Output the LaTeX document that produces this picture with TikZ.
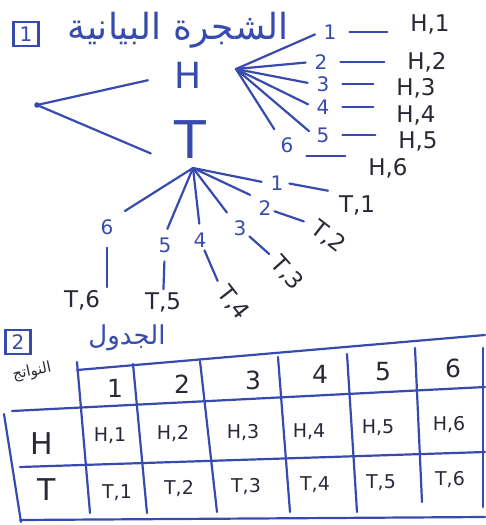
\documentclass[tikz,border=0pt]{standalone}
\usepackage{fontspec}
\setmainfont{DejaVu Sans}
\newfontfamily\arabicfont[Script=Arabic]{DejaVu Sans}
\TeXXeTstate=1
\usetikzlibrary{positioning}
\definecolor{inkblue}{RGB}{55,75,175}
\definecolor{inkdark}{RGB}{40,40,55}

\begin{document}
\begin{tikzpicture}[x=1pt, y=-1pt, line width=2.2pt, line cap=round,
    ink/.style={draw=inkblue},
    fan/.style={draw=inkblue, shorten >=6pt},
    stroke/.style={draw=inkblue, shorten <=10pt, shorten >=20pt},
    num/.style={text=inkblue, font=\fontsize{20}{20}\selectfont, inner sep=2pt},
    lab/.style={text=inkdark, font=\fontsize{23}{23}\selectfont, inner sep=2pt},
    cell/.style={text=inkdark, font=\fontsize{19}{19}\selectfont, inner sep=1pt},
    head/.style={text=inkdark, font=\fontsize{25}{25}\selectfont, inner sep=1pt},
    partbox/.style={draw=inkblue, text=inkblue, font=\fontsize{20}{20}\selectfont,
      inner sep=2pt, minimum width=25pt, minimum height=24pt}]
    \useasboundingbox (0,0) rectangle (485,525);

    % Part 1 title
    \node[partbox] (one) at (26,34) {1};
    \node[text=inkblue, font=\arabicfont\fontsize{36}{36}\selectfont] (title) at (178,30) {\beginR الشجرة البيانية\endR};

    % Root and first level
    \coordinate (root) at (37,105);
    \fill[inkblue] (root) circle (2.8pt);
    \node[text=inkblue, font=\fontsize{36}{36}\selectfont, inner sep=2pt] (H) at (188,75) {H};
    \node[text=inkblue, font=\fontsize{52}{52}\selectfont, inner sep=2pt] (T) at (190,140) {T};
    \draw[ink, shorten >=24pt] (root) -- (H.west);
    \draw[ink, shorten >=22pt] (root) -- (T.south west);

    % H branches
    \coordinate (hfan) at (236,69);
    \node[num] (h1) at (330,32) {1};
    \node[num] (h2) at (321,62) {2};
    \node[num] (h3) at (323,84) {3};
    \node[num] (h4) at (323,107) {4};
    \node[num] (h5) at (323,135) {5};
    \node[num] (h6) at (287,145) {6};
    \draw[fan] (hfan) -- (h1.west);
    \draw[fan] (hfan) -- (h2.west);
    \draw[fan] (hfan) -- (h3.west);
    \draw[fan] (hfan) -- (h4.west);
    \draw[fan] (hfan) -- (h5.west);
    \draw[fan] (hfan) -- (h6.north west);

    \node[lab] (hl1) at (430,24) {H,1};
    \node[lab] (hl2) at (427,62) {H,2};
    \node[lab] (hl3) at (416,88) {H,3};
    \node[lab] (hl4) at (416,115) {H,4};
    \node[lab] (hl5) at (418,141) {H,5};
    \node[lab] (hl6) at (388,168) {H,6};
    \draw[stroke] (h1.east) -- (h1.east -| hl1.west);
    \draw[stroke] (h2.east) -- (h2.east -| hl2.west);
    \draw[stroke] (h3.east) -- (h3.east -| hl3.west);
    \draw[stroke] (h4.east) -- (h4.east -| hl4.west);
    \draw[stroke] (h5.east) -- (h5.east -| hl5.west);
    \draw[stroke] (h6.south east) -- (h6.south east -| hl6.north west);

    % T branches
    \coordinate (tfan) at (193,168);
    \node[num] (t1) at (277,183) {1};
    \node[num] (t2) at (265,208) {2};
    \node[num] (t3) at (240,228) {3};
    \node[num] (t4) at (200,240) {4};
    \node[num] (t5) at (165,245) {5};
    \node[num] (t6) at (107,227) {6};
    \draw[fan] (tfan) -- (t1.west);
    \draw[fan] (tfan) -- (t2.north west);
    \draw[fan] (tfan) -- (t3.north west);
    \draw[fan] (tfan) -- (t4.north);
    \draw[fan] (tfan) -- (t5.north);
    \draw[fan, shorten >=10pt] (tfan) -- (t6.north east);

    \node[lab] (tl1) at (357,205) {T,1};
    \node[lab, rotate=-38] (tl2) at (328,237) {T,2};
    \node[lab, rotate=-48] (tl3) at (287,273) {T,3};
    \node[lab, rotate=-52] (tl4) at (233,303) {T,4};
    \node[lab] (tl5) at (163,302) {T,5};
    \node[lab] (tl6) at (82,300) {T,6};
    \draw[ink, shorten <=3pt, shorten >=8pt] (t1.east) -- (tl1.north west);
    \draw[ink, shorten >=8pt] (t2) -- (tl2.west);
    \draw[ink, shorten >=5pt] (t3) -- (tl3.west);
    \draw[ink, shorten >=6pt] (t4) -- (tl4.west);
    \draw[ink, shorten <=6pt] (t5) -- (tl5);
    \draw[ink, shorten <=10pt] (t6.south) -- (t6.south |- tl6.north);

    % Part 2 title
    \node[partbox] (two) at (18,342) {2};
    \node[text=inkblue, font=\arabicfont\fontsize{26}{26}\selectfont] (ttable) at (127,338) {\beginR الجدول\endR};
    \node[text=inkdark, font=\arabicfont\fontsize{15}{15}\selectfont, rotate=12] (outc) at (32,372) {\beginR النواتج\endR};

    % Table rules
    \draw[ink] (77,370) -- (485,335);
    \draw[ink] (12,411) -- (485,387);
    \draw[ink] (20,467) -- (485,452);
    \draw[ink] (20,520) -- (485,517);
    \draw[ink] (4,414) -- (21,522);
    \draw[ink] (77,362) -- (90,513);
    \draw[ink] (133,364) -- (147,513);
    \draw[ink] (200,361) -- (217,512);
    \draw[ink] (278,357) -- (290,512);
    \draw[ink] (347,354) -- (357,512);
    \draw[ink] (415,348) -- (422,502);
    \draw[ink] (483,348) -- (483,507);

    % Header row
    \node[head] (c1) at (115,388) {1};
    \node[head] (c2) at (182,384) {2};
    \node[head] (c3) at (253,380) {3};
    \node[head] (c4) at (320,374) {4};
    \node[head] (c5) at (383,372) {5};
    \node[head] (c6) at (453,368) {6};

    % H row
    \node[head, font=\fontsize{30}{30}\selectfont] (rH) at (42,444) {H};
    \node[cell] (ch1) at (110,436) {H,1};
    \node[cell] (ch2) at (173,434) {H,2};
    \node[cell] (ch3) at (243,433) {H,3};
    \node[cell] (ch4) at (309,432) {H,4};
    \node[cell] (ch5) at (378,428) {H,5};
    \node[cell] (ch6) at (449,425) {H,6};

    % T row
    \node[head, font=\fontsize{30}{30}\selectfont] (rT) at (47,490) {T};
    \node[cell] (ct1) at (117,493) {T,1};
    \node[cell] (ct2) at (179,489) {T,2};
    \node[cell] (ct3) at (246,487) {T,3};
    \node[cell] (ct4) at (315,485) {T,4};
    \node[cell] (ct5) at (381,483) {T,5};
    \node[cell] (ct6) at (450,480) {T,6};
\end{tikzpicture}
\end{document}
